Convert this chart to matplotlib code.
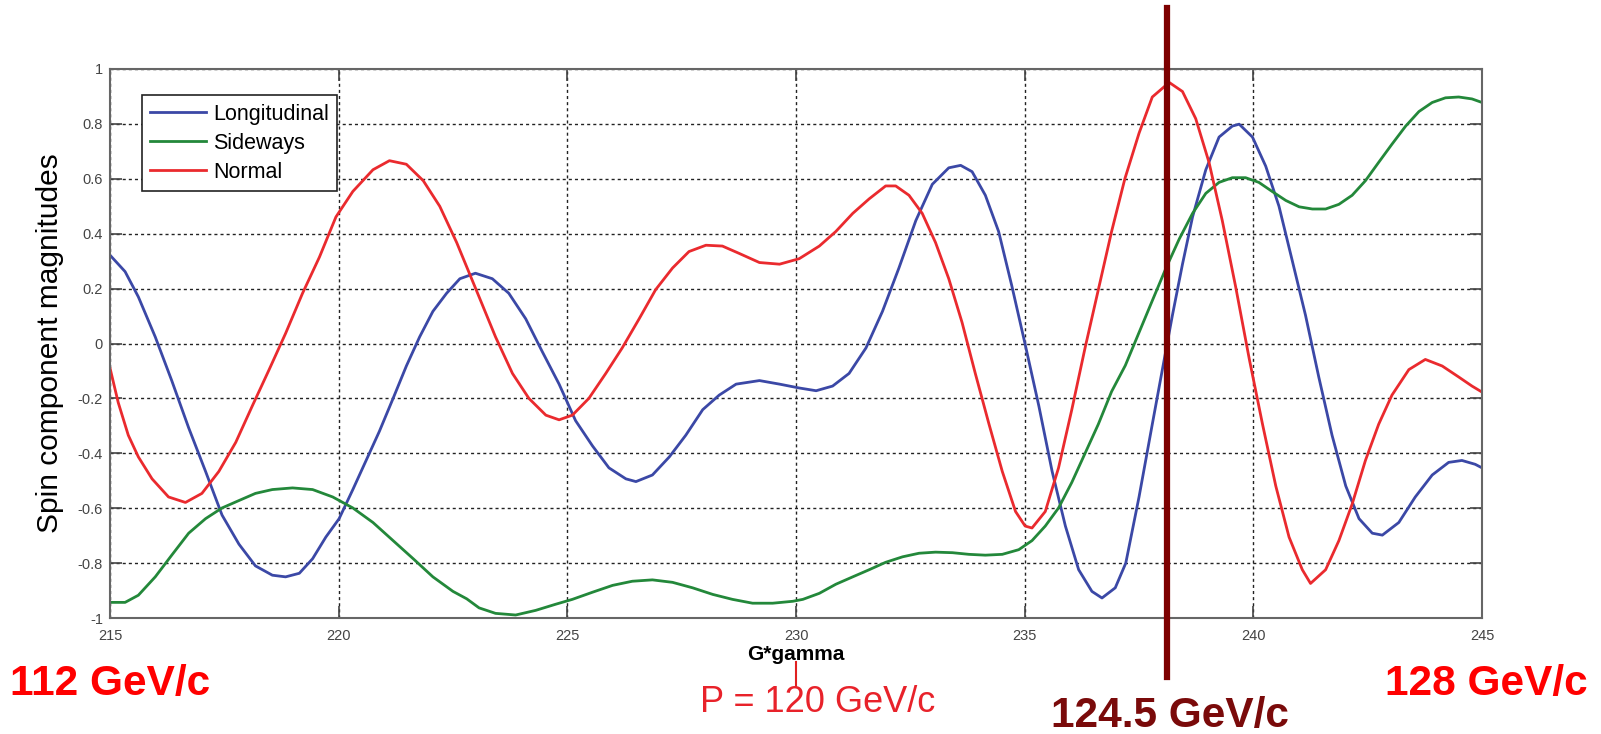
import matplotlib
matplotlib.use("Agg")
import matplotlib.pyplot as plt
from matplotlib import font_manager

# G*gamma positions and spin components
g_long = [215.0, 215.33, 215.62, 215.99, 216.35, 216.72, 217.09, 217.45, 217.82, 218.18,
          218.55, 218.84, 219.14, 219.43, 219.72, 220.01, 220.31, 220.6, 220.89, 221.19,
          221.48, 221.77, 222.06, 222.36, 222.65, 222.99, 223.36, 223.72, 224.09, 224.45,
          224.82, 225.18, 225.55, 225.91, 226.28, 226.5, 226.86, 227.23, 227.59, 227.96,
          228.32, 228.69, 229.2, 229.64, 230.07, 230.44, 230.8, 231.16, 231.53, 231.89,
          232.25, 232.62, 232.98, 233.34, 233.6, 233.85, 234.14, 234.43, 234.72, 235.01,
          235.31, 235.6, 235.89, 236.18, 236.47, 236.69, 236.98, 237.21, 237.5, 237.79,
          238.01, 238.23, 238.45, 238.67, 238.96, 239.25, 239.54, 239.69, 239.98, 240.27,
          240.56, 240.85, 241.14, 241.43, 241.72, 242.02, 242.31, 242.6, 242.82, 243.18,
          243.54, 243.91, 244.27, 244.56, 244.85, 245.0]
longitudinal = [0.322, 0.262, 0.17, 0.024, -0.135, -0.307, -0.466, -0.625, -0.731, -0.81,
                -0.844, -0.85, -0.837, -0.784, -0.705, -0.638, -0.532, -0.426, -0.32, -0.2,
                -0.082, 0.024, 0.117, 0.183, 0.236, 0.256, 0.236, 0.183, 0.09, -0.029,
                -0.148, -0.281, -0.373, -0.453, -0.493, -0.503, -0.479, -0.413, -0.334, -0.241,
                -0.188, -0.148, -0.135, -0.148, -0.162, -0.172, -0.155, -0.109, -0.016, 0.117,
                0.275, 0.448, 0.58, 0.64, 0.649, 0.626, 0.54, 0.408, 0.209, -0.003,
                -0.228, -0.466, -0.665, -0.824, -0.903, -0.927, -0.89, -0.8, -0.559, -0.294,
                -0.095, 0.103, 0.289, 0.461, 0.633, 0.752, 0.792, 0.799, 0.752, 0.646,
                0.5, 0.302, 0.103, -0.122, -0.334, -0.519, -0.638, -0.691, -0.698, -0.652,
                -0.559, -0.479, -0.433, -0.426, -0.44, -0.453]

g_side = [215.0, 215.33, 215.62, 215.99, 216.35, 216.72, 217.09, 217.45, 217.82, 218.18,
          218.55, 218.99, 219.43, 219.87, 220.31, 220.75, 221.19, 221.63, 222.06, 222.5,
          222.8, 223.07, 223.43, 223.87, 224.31, 224.74, 225.11, 225.55, 225.99, 226.42,
          226.86, 227.3, 227.74, 228.18, 228.61, 229.05, 229.49, 229.93, 230.15, 230.51,
          230.87, 231.24, 231.6, 231.96, 232.33, 232.69, 233.05, 233.42, 233.78, 234.14,
          234.51, 234.87, 235.16, 235.45, 235.74, 236.03, 236.32, 236.61, 236.9, 237.2,
          237.5, 237.79, 238.09, 238.38, 238.67, 238.96, 239.25, 239.54, 239.83, 240.12,
          240.41, 240.71, 241.0, 241.29, 241.58, 241.87, 242.16, 242.45, 242.74, 243.03,
          243.33, 243.62, 243.91, 244.2, 244.49, 244.78, 245.0]
sideways = [-0.943, -0.943, -0.917, -0.85, -0.771, -0.691, -0.638, -0.599, -0.572, -0.546,
            -0.532, -0.526, -0.532, -0.559, -0.599, -0.652, -0.718, -0.784, -0.85, -0.903,
            -0.93, -0.963, -0.983, -0.989, -0.972, -0.95, -0.932, -0.906, -0.881, -0.866,
            -0.861, -0.87, -0.89, -0.914, -0.932, -0.946, -0.946, -0.939, -0.932, -0.91,
            -0.877, -0.85, -0.824, -0.797, -0.777, -0.764, -0.76, -0.762, -0.768, -0.771,
            -0.768, -0.751, -0.718, -0.665, -0.599, -0.506, -0.4, -0.294, -0.175, -0.08,
            0.04, 0.156, 0.275, 0.381, 0.474, 0.547, 0.587, 0.604, 0.604, 0.587,
            0.554, 0.521, 0.498, 0.49, 0.49, 0.507, 0.54, 0.593, 0.66, 0.726,
            0.792, 0.845, 0.878, 0.895, 0.898, 0.891, 0.878]

g_norm = [215.0, 215.18, 215.4, 215.62, 215.92, 216.28, 216.65, 217.01, 217.38, 217.75,
          218.11, 218.48, 218.84, 219.21, 219.58, 219.94, 220.31, 220.75, 221.11, 221.48,
          221.85, 222.21, 222.58, 223.07, 223.43, 223.8, 224.16, 224.53, 224.82, 225.11,
          225.47, 225.84, 226.2, 226.57, 226.93, 227.3, 227.66, 228.03, 228.39, 228.76,
          229.2, 229.64, 230.07, 230.51, 230.87, 231.24, 231.6, 231.96, 232.18, 232.47,
          232.76, 233.05, 233.34, 233.63, 233.92, 234.22, 234.51, 234.8, 235.01, 235.16,
          235.45, 235.74, 236.03, 236.32, 236.61, 236.9, 237.19, 237.5, 237.79, 238.16,
          238.45, 238.74, 239.03, 239.32, 239.61, 239.91, 240.2, 240.49, 240.78, 241.07,
          241.25, 241.58, 241.87, 242.16, 242.45, 242.74, 243.03, 243.4, 243.76, 244.13,
          244.49, 244.78, 245.0]
normal = [-0.089, -0.215, -0.334, -0.413, -0.493, -0.559, -0.579, -0.546, -0.466, -0.36,
          -0.228, -0.095, 0.037, 0.183, 0.315, 0.461, 0.554, 0.633, 0.666, 0.653,
          0.593, 0.5, 0.368, 0.17, 0.024, -0.109, -0.2, -0.261, -0.278, -0.261,
          -0.2, -0.109, -0.016, 0.09, 0.196, 0.275, 0.335, 0.358, 0.355, 0.328,
          0.295, 0.289, 0.309, 0.355, 0.408, 0.474, 0.527, 0.574, 0.574, 0.54,
          0.474, 0.368, 0.236, 0.077, -0.109, -0.294, -0.466, -0.612, -0.665, -0.672,
          -0.612, -0.453, -0.241, -0.016, 0.196, 0.408, 0.6, 0.766, 0.898, 0.951,
          0.918, 0.819, 0.66, 0.448, 0.209, -0.056, -0.294, -0.519, -0.705, -0.824,
          -0.874, -0.824, -0.718, -0.585, -0.426, -0.294, -0.188, -0.095, -0.058, -0.082,
          -0.122, -0.155, -0.177]

x_ticks = [215, 220, 225, 230, 235, 240, 245]
y_ticks = [-1, -0.8, -0.6, -0.4, -0.2, 0, 0.2, 0.4, 0.6, 0.8, 1]
y_ticklabels = ["-1", "-0.8", "-0.6", "-0.4", "-0.2", "0", "0.2", "0.4", "0.6", "0.8", "1"]
marker_g = 238.12   # vertical marker (124.5 GeV/c)
p_g = 230           # P = 120 GeV/c

plt.rcParams['font.family'] = ['Liberation Sans', 'DejaVu Sans']

fig = plt.figure(figsize=(16.01, 7.34), dpi=100)
ax = fig.add_axes([0.0687, 0.158, 0.857, 0.748])

ax.plot(g_long, longitudinal, color="#3b48a6", lw=2.0, label="Longitudinal")
ax.plot(g_side, sideways, color="#23883a", lw=2.0, label="Sideways")
ax.plot(g_norm, normal, color="#ea2a2e", lw=2.0, label="Normal")

ax.set_xlim(215, 245)
ax.set_ylim(-1, 1)
ax.set_xticks(x_ticks)
ax.set_yticks(y_ticks)
ax.set_yticklabels(y_ticklabels)
ax.grid(True, color="#222222", linestyle=(0, (2.2, 2.2)), linewidth=1.0)
ax.tick_params(direction="in", length=8.5, width=1.2, colors="#444444", labelsize=10.5,
               top=True, right=True)
ax.tick_params(axis="x", pad=8)
ax.tick_params(axis="y", pad=5)
for s in ax.spines.values():
    s.set_color("#666666")
    s.set_linewidth(1.5)

ax.set_xlabel("G*gamma", fontsize=15, fontweight="bold", labelpad=1)
ax.set_ylabel("Spin component magnitudes", fontsize=21.5, labelpad=10)

leg = ax.legend(loc="upper left", bbox_to_anchor=(0.023, 0.952), fontsize=15.5,
                frameon=True, fancybox=False, edgecolor="#222222", framealpha=1,
                handlelength=2.6, handletextpad=0.35, labelspacing=0.38,
                borderpad=0.38, borderaxespad=0)
leg.get_frame().set_linewidth(1.2)

# dark red marker line running past the axes
xt = ax.get_xaxis_transform()
ax.plot([marker_g, marker_g], [-0.107, 1.111], transform=xt, color="#7d0000",
        lw=4.5, clip_on=False, zorder=5)
ax.plot([p_g, p_g], [-0.08, -0.126], transform=xt, color="#e02020",
        lw=1.5, clip_on=False)

names = [f.name for f in font_manager.fontManager.ttflist]
narrow = "Liberation Sans Narrow" if "Liberation Sans Narrow" in names else "Liberation Sans"

fig.text(10 / 1601, 1 - 684 / 734, "112 GeV/c", color="#ff0000", fontsize=30.5,
         fontweight="bold", ha="left", va="center")
fig.text(1588 / 1601, 1 - 684 / 734, "128 GeV/c", color="#ff0000", fontsize=30.5,
         fontweight="bold", ha="right", va="center")
fig.text(1170 / 1601, 1 - 716 / 734, "124.5 GeV/c", color="#7a0a0a", fontsize=30.5,
         fontweight="bold", ha="center", va="center")
fig.text(818 / 1601, 1 - 703 / 734, "P = 120 GeV/c", color="#e8222a",
         fontsize=31.5 if narrow != "Liberation Sans" else 26, family=narrow,
         ha="center", va="center")

fig.savefig("out.png", dpi=100)
